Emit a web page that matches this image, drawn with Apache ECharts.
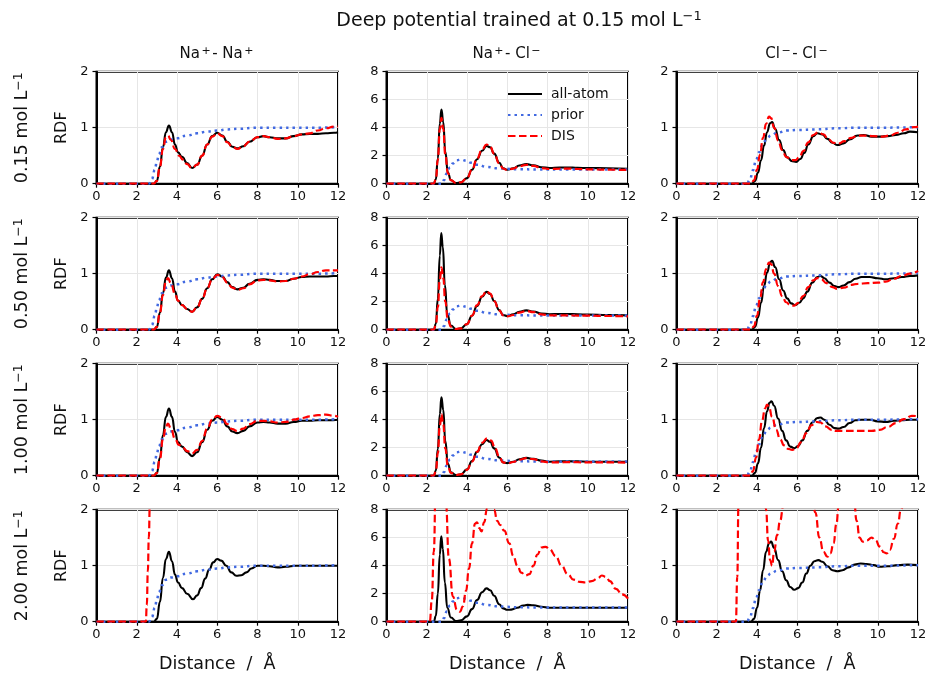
<!DOCTYPE html>
<html>
<head>
<meta charset="utf-8">
<title>RDF comparison</title>
<script src="https://cdn.jsdelivr.net/npm/echarts@6/dist/echarts.min.js"></script>
<style>
  html, body { margin: 0; padding: 0; background: #fff; }
  #chart { width: 930px; height: 677px; }
</style>
</head>
<body>
<div id="chart"></div>
<script>
// ---- labels (rich-text markup: {sup|...} is a superscript) ----
const figTitle = 'Deep potential trained at 0.15 mol L{sup|\u22121}';
const pairTitles = ['Na{sup|+}- Na{sup|+}', 'Na{sup|+}- Cl{sup|\u2212}', 'Cl{sup|\u2212}- Cl{sup|\u2212}'];
const concLabels = ['0.15 mol L{sup|\u22121}', '0.50 mol L{sup|\u22121}', '1.00 mol L{sup|\u22121}', '2.00 mol L{sup|\u22121}'];
const seriesNames = ['all-atom', 'prior', 'DIS'];
const xMax = 12, xStep = 2;
const yMaxByPair = [2, 8, 2];
const yStepByPair = [1, 2, 1];

// ---- prior RDFs (one per ion pair) ----
const priorNaNa = [[0,0],[2.6,0],[2.75,0.08],[2.9,0.25],[3.0,0.4],[3.1,0.52],[3.25,0.65],[3.45,0.75],[3.7,0.79],[4.0,0.81],[4.5,0.86],[5.0,0.9],[5.5,0.93],[6.0,0.95],[6.5,0.97],[7.0,0.98],[8.0,1.0],[9.0,1.0],[10,1.0],[11,1.0],[12,1.01]];
const priorNaCl = [[0,0],[2.75,0],[2.85,0.25],[3.0,0.75],[3.15,1.15],[3.3,1.45],[3.5,1.68],[3.7,1.72],[3.95,1.65],[4.2,1.5],[4.5,1.35],[5.0,1.2],[5.5,1.1],[6.0,1.06],[6.5,1.03],[7.5,1.02],[9,1.02],[12,1.02]];
const priorClCl = [[0,0],[3.5,0],[3.65,0.08],[3.8,0.24],[3.95,0.42],[4.1,0.56],[4.3,0.72],[4.5,0.82],[4.7,0.86],[5.0,0.91],[5.5,0.95],[6.0,0.96],[7.0,0.97],[8.0,0.99],[9.0,1.0],[10,1.0],[12,1.01]];

// ---- 0.15 mol/L ----
const aaNaNa015 = [[0,0],[2.85,0],[3.0,0.05],[3.15,0.3],[3.3,0.65],[3.45,0.92],[3.6,1.04],[3.75,0.92],[3.9,0.7],[4.05,0.56],[4.25,0.48],[4.5,0.37],[4.75,0.28],[5.0,0.34],[5.25,0.5],[5.5,0.7],[5.75,0.85],[6.0,0.91],[6.25,0.86],[6.5,0.75],[6.75,0.66],[7.0,0.63],[7.3,0.67],[7.6,0.75],[8.0,0.83],[8.3,0.85],[8.6,0.83],[9.0,0.81],[9.4,0.81],[9.8,0.85],[10.2,0.88],[10.6,0.89],[11.0,0.89],[11.4,0.9],[11.8,0.91],[12,0.92]];
const disNaNa015 = [[0,0],[2.85,0],[3.0,0.05],[3.15,0.3],[3.3,0.62],[3.45,0.83],[3.55,0.86],[3.7,0.78],[3.9,0.62],[4.1,0.5],[4.3,0.43],[4.5,0.35],[4.75,0.28],[5.0,0.34],[5.25,0.5],[5.5,0.7],[5.75,0.84],[6.0,0.9],[6.25,0.85],[6.5,0.74],[6.75,0.66],[7.0,0.62],[7.3,0.67],[7.6,0.75],[8.0,0.83],[8.3,0.85],[8.6,0.83],[9.0,0.8],[9.4,0.81],[9.8,0.85],[10.2,0.88],[10.6,0.9],[11.0,0.95],[11.4,0.99],[11.8,1.02],[12,1.02]];
const aaNaCl015 = [[0,0],[2.35,0],[2.45,0.3],[2.55,1.8],[2.65,4.3],[2.73,5.3],[2.82,4.4],[2.92,2.3],[3.05,0.8],[3.2,0.25],[3.45,0.05],[3.7,0.1],[4.0,0.4],[4.25,1.0],[4.5,1.75],[4.75,2.35],[4.97,2.7],[5.15,2.6],[5.35,2.15],[5.6,1.5],[5.8,1.1],[6.0,1.0],[6.3,1.1],[6.6,1.3],[6.95,1.4],[7.3,1.32],[7.7,1.18],[8.1,1.12],[8.6,1.15],[9.0,1.16],[9.5,1.13],[10,1.12],[11,1.1],[12,1.07]];
const disNaCl015 = [[0,0],[2.35,0],[2.45,0.3],[2.55,1.7],[2.65,3.9],[2.73,4.7],[2.82,3.9],[2.92,2.1],[3.05,0.75],[3.2,0.25],[3.45,0.05],[3.7,0.1],[4.0,0.4],[4.25,1.0],[4.5,1.8],[4.75,2.45],[4.97,2.8],[5.15,2.65],[5.35,2.15],[5.6,1.45],[5.8,1.08],[6.0,0.98],[6.3,1.08],[6.6,1.25],[6.95,1.35],[7.3,1.27],[7.7,1.12],[8.1,1.05],[8.6,1.07],[9.0,1.08],[9.5,1.05],[10,1.03],[11,1.0],[12,0.98]];
const aaClCl015 = [[0,0],[3.75,0],[3.9,0.05],[4.05,0.2],[4.2,0.42],[4.35,0.68],[4.5,0.92],[4.65,1.08],[4.75,1.1],[4.9,0.98],[5.1,0.78],[5.3,0.6],[5.5,0.47],[5.75,0.4],[5.95,0.39],[6.15,0.44],[6.35,0.55],[6.55,0.7],[6.8,0.85],[7.0,0.9],[7.25,0.88],[7.5,0.8],[7.75,0.73],[8.0,0.69],[8.3,0.72],[8.6,0.79],[9.0,0.86],[9.3,0.87],[9.7,0.84],[10.1,0.84],[10.5,0.85],[10.9,0.87],[11.3,0.9],[11.6,0.93],[12,0.92]];
const disClCl015 = [[0,0],[3.7,0],[3.85,0.06],[4.0,0.25],[4.15,0.52],[4.3,0.82],[4.45,1.07],[4.6,1.2],[4.7,1.17],[4.85,1.0],[5.05,0.77],[5.25,0.6],[5.45,0.48],[5.7,0.42],[5.9,0.42],[6.1,0.47],[6.3,0.58],[6.55,0.74],[6.8,0.87],[7.05,0.92],[7.3,0.88],[7.55,0.79],[7.8,0.73],[8.05,0.72],[8.35,0.76],[8.7,0.82],[9.0,0.86],[9.4,0.86],[9.8,0.85],[10.2,0.84],[10.6,0.86],[11.0,0.91],[11.4,0.97],[11.8,1.01],[12,1.02]];

// ---- 0.50 mol/L ----
const aaNaNa050 = [[0,0],[2.85,0],[3.0,0.05],[3.15,0.3],[3.3,0.65],[3.45,0.93],[3.6,1.06],[3.75,0.92],[3.9,0.68],[4.05,0.52],[4.25,0.44],[4.5,0.37],[4.75,0.32],[5.0,0.4],[5.25,0.55],[5.5,0.74],[5.75,0.9],[6.0,0.99],[6.25,0.95],[6.5,0.85],[6.75,0.76],[7.0,0.72],[7.3,0.75],[7.6,0.82],[8.0,0.89],[8.3,0.9],[8.6,0.89],[9.0,0.87],[9.4,0.87],[9.8,0.91],[10.2,0.94],[10.6,0.95],[11.0,0.95],[11.4,0.95],[11.8,0.96],[12,0.96]];
const disNaNa050 = [[0,0],[2.85,0],[3.0,0.05],[3.15,0.3],[3.3,0.62],[3.45,0.86],[3.55,0.92],[3.7,0.83],[3.9,0.64],[4.05,0.52],[4.25,0.44],[4.5,0.37],[4.75,0.32],[5.0,0.4],[5.25,0.55],[5.5,0.74],[5.75,0.9],[6.0,0.98],[6.25,0.94],[6.5,0.84],[6.75,0.75],[7.0,0.71],[7.3,0.74],[7.6,0.81],[8.0,0.88],[8.3,0.89],[8.6,0.88],[9.0,0.86],[9.4,0.87],[9.8,0.91],[10.2,0.95],[10.6,0.99],[11.0,1.03],[11.4,1.06],[11.8,1.06],[12,1.06]];
const aaNaCl050 = [[0,0],[2.35,0],[2.45,0.4],[2.55,2.2],[2.65,5.3],[2.72,6.9],[2.8,5.9],[2.9,3.2],[3.02,1.1],[3.2,0.3],[3.45,0.05],[3.7,0.1],[4.0,0.4],[4.25,1.0],[4.5,1.7],[4.75,2.35],[4.97,2.7],[5.15,2.55],[5.35,2.05],[5.6,1.4],[5.8,1.05],[6.0,0.98],[6.3,1.1],[6.6,1.28],[6.95,1.38],[7.3,1.3],[7.7,1.16],[8.1,1.1],[8.6,1.12],[9.0,1.12],[9.5,1.1],[10,1.08],[11,1.05],[12,1.02]];
const disNaCl050 = [[0,0],[2.35,0],[2.45,0.3],[2.55,1.6],[2.65,3.6],[2.73,4.45],[2.82,3.7],[2.92,2.0],[3.05,0.7],[3.2,0.22],[3.45,0.05],[3.7,0.1],[4.0,0.4],[4.25,1.0],[4.5,1.75],[4.75,2.4],[4.97,2.75],[5.15,2.58],[5.35,2.05],[5.6,1.38],[5.8,1.02],[6.0,0.95],[6.3,1.05],[6.6,1.22],[6.95,1.33],[7.3,1.26],[7.7,1.1],[8.1,1.02],[8.6,1.02],[9.0,1.02],[9.5,1.01],[10,1.0],[11,0.98],[12,0.95]];
const aaClCl050 = [[0,0],[3.75,0],[3.9,0.05],[4.05,0.22],[4.2,0.48],[4.35,0.78],[4.5,1.02],[4.65,1.2],[4.75,1.23],[4.9,1.12],[5.1,0.9],[5.3,0.7],[5.5,0.56],[5.7,0.47],[5.9,0.44],[6.1,0.48],[6.3,0.56],[6.5,0.68],[6.75,0.84],[7.0,0.94],[7.15,0.96],[7.35,0.92],[7.6,0.84],[7.85,0.78],[8.05,0.76],[8.3,0.79],[8.6,0.85],[8.9,0.91],[9.2,0.94],[9.6,0.94],[10.0,0.92],[10.4,0.9],[10.8,0.92],[11.2,0.94],[11.6,0.96],[12,0.97]];
const disClCl050 = [[0,0],[3.7,0],[3.85,0.06],[4.0,0.25],[4.15,0.55],[4.3,0.85],[4.45,1.08],[4.6,1.2],[4.7,1.17],[4.85,1.0],[5.05,0.78],[5.25,0.6],[5.45,0.49],[5.65,0.44],[5.85,0.43],[6.05,0.48],[6.3,0.6],[6.55,0.76],[6.8,0.88],[7.0,0.92],[7.2,0.9],[7.45,0.83],[7.75,0.76],[8.0,0.73],[8.3,0.75],[8.7,0.8],[9.0,0.82],[9.5,0.83],[10.0,0.84],[10.4,0.86],[10.8,0.91],[11.2,0.96],[11.6,1.0],[12,1.05]];

// ---- 1.00 mol/L ----
const aaNaNa100 = [[0,0],[2.85,0],[3.0,0.05],[3.15,0.32],[3.3,0.72],[3.45,1.05],[3.6,1.2],[3.75,1.05],[3.9,0.78],[4.05,0.6],[4.25,0.52],[4.5,0.42],[4.75,0.35],[5.0,0.42],[5.25,0.6],[5.5,0.82],[5.75,0.98],[6.0,1.05],[6.25,1.0],[6.5,0.88],[6.75,0.79],[7.0,0.76],[7.3,0.8],[7.6,0.88],[8.0,0.95],[8.3,0.96],[8.6,0.95],[9.0,0.93],[9.4,0.93],[9.8,0.96],[10.2,0.98],[10.6,0.98],[11.0,0.99],[11.5,0.99],[12,1.0]];
const disNaNa100 = [[0,0],[2.85,0],[3.0,0.05],[3.15,0.3],[3.3,0.65],[3.45,0.88],[3.55,0.93],[3.7,0.84],[3.9,0.66],[4.1,0.55],[4.3,0.5],[4.5,0.44],[4.75,0.4],[5.0,0.46],[5.25,0.62],[5.5,0.84],[5.75,1.0],[6.0,1.07],[6.25,1.03],[6.5,0.92],[6.75,0.83],[7.0,0.8],[7.3,0.84],[7.6,0.92],[8.0,0.98],[8.3,0.98],[8.6,0.97],[9.0,0.95],[9.4,0.96],[9.8,1.0],[10.2,1.03],[10.6,1.06],[11.0,1.08],[11.4,1.09],[11.8,1.07],[12,1.05]];
const aaNaCl100 = [[0,0],[2.35,0],[2.45,0.35],[2.55,1.9],[2.65,4.4],[2.73,5.6],[2.82,4.7],[2.92,2.5],[3.05,0.85],[3.2,0.25],[3.45,0.05],[3.7,0.1],[4.0,0.45],[4.25,1.05],[4.5,1.7],[4.75,2.25],[4.97,2.55],[5.15,2.42],[5.35,1.95],[5.6,1.3],[5.8,0.95],[6.0,0.9],[6.3,1.0],[6.6,1.18],[6.95,1.27],[7.3,1.2],[7.7,1.08],[8.1,1.0],[8.6,1.02],[9.0,1.03],[9.5,1.02],[10,1.0],[11,1.0],[12,1.0]];
const disNaCl100 = [[0,0],[2.35,0],[2.45,0.3],[2.55,1.6],[2.65,3.6],[2.73,4.4],[2.82,3.65],[2.92,1.95],[3.05,0.7],[3.2,0.2],[3.45,0.05],[3.7,0.1],[4.0,0.42],[4.25,1.0],[4.5,1.7],[4.75,2.35],[5.0,2.67],[5.2,2.5],[5.4,1.95],[5.6,1.35],[5.8,0.95],[6.0,0.88],[6.3,0.98],[6.6,1.15],[6.95,1.25],[7.3,1.18],[7.7,1.02],[8.1,0.95],[8.6,0.95],[9.0,0.97],[9.5,0.96],[10,0.95],[11,0.95],[12,0.93]];
const aaClCl100 = [[0,0],[3.75,0],[3.9,0.05],[4.05,0.22],[4.2,0.5],[4.35,0.85],[4.5,1.15],[4.62,1.3],[4.72,1.33],[4.85,1.25],[5.05,1.02],[5.25,0.8],[5.45,0.63],[5.65,0.52],[5.85,0.49],[6.05,0.53],[6.25,0.63],[6.5,0.8],[6.75,0.95],[7.0,1.03],[7.15,1.04],[7.35,1.0],[7.6,0.91],[7.85,0.85],[8.05,0.84],[8.3,0.87],[8.6,0.94],[8.9,0.99],[9.2,1.0],[9.6,1.0],[10.0,0.97],[10.4,0.96],[10.8,0.98],[11.2,0.99],[11.6,1.0],[12,1.0]];
const disClCl100 = [[0,0],[3.65,0],[3.8,0.08],[3.95,0.32],[4.1,0.65],[4.25,0.98],[4.4,1.2],[4.5,1.27],[4.6,1.22],[4.75,1.05],[4.95,0.82],[5.15,0.65],[5.35,0.54],[5.55,0.48],[5.75,0.46],[5.95,0.49],[6.2,0.6],[6.45,0.76],[6.7,0.9],[6.95,0.96],[7.15,0.95],[7.4,0.88],[7.7,0.82],[7.95,0.8],[8.3,0.8],[8.7,0.8],[9.2,0.8],[9.7,0.8],[10.1,0.82],[10.5,0.87],[10.9,0.94],[11.3,1.01],[11.7,1.07],[12,1.06]];

// ---- 2.00 mol/L ----
const aaNaNa200 = [[0,0],[2.85,0],[3.0,0.05],[3.15,0.35],[3.3,0.78],[3.45,1.12],[3.6,1.25],[3.75,1.08],[3.9,0.84],[4.05,0.7],[4.25,0.6],[4.5,0.5],[4.8,0.4],[5.0,0.47],[5.2,0.6],[5.4,0.77],[5.6,0.93],[5.8,1.06],[6.0,1.12],[6.2,1.09],[6.45,1.0],[6.7,0.88],[6.95,0.82],[7.2,0.83],[7.45,0.88],[7.7,0.95],[8.0,1.0],[8.3,1.0],[8.6,0.99],[9.0,0.97],[9.4,0.98],[9.9,1.0],[10.5,1.0],[11,1.0],[12,1.0]];
const disNaNa200 = [[0,0],[2.45,0],[2.5,0.3],[2.55,0.9],[2.6,1.5],[2.65,2.1],[2.75,3.2],[3.0,5.5],[3.5,7.0],[4.5,5.0],[6.0,4.0],[8.0,3.5],[10,3.0],[12,3.0]];
const aaNaCl200 = [[0,0],[2.35,0],[2.45,0.4],[2.55,2.0],[2.65,4.8],[2.72,6.1],[2.8,5.2],[2.9,2.8],[3.02,1.0],[3.2,0.3],[3.45,0.05],[3.7,0.1],[4.0,0.38],[4.25,0.9],[4.5,1.55],[4.75,2.1],[4.97,2.38],[5.15,2.25],[5.35,1.85],[5.6,1.25],[5.8,0.95],[6.0,0.85],[6.2,0.86],[6.5,1.0],[6.8,1.15],[7.0,1.2],[7.3,1.17],[7.7,1.07],[8.1,1.0],[8.6,1.0],[9.0,1.0],[10,1.0],[11,1.0],[12,1.0]];
const disNaCl200 = [[0,0],[2.15,0],[2.25,1.5],[2.35,5],[2.45,10],[2.65,14],[2.85,11],[2.95,8.5],[3.1,4.5],[3.3,1.8],[3.5,0.85],[3.65,0.72],[3.8,1.1],[3.95,2.2],[4.1,3.8],[4.25,5.6],[4.4,7.0],[4.5,7.1],[4.6,6.7],[4.72,6.45],[4.85,7.1],[5.0,8.1],[5.2,8.5],[5.35,8.0],[5.5,7.2],[5.65,6.9],[5.85,6.5],[6.1,5.6],[6.3,4.7],[6.5,4.0],[6.7,3.5],[6.9,3.3],[7.1,3.4],[7.3,4.0],[7.5,4.8],[7.7,5.3],[7.9,5.35],[8.1,5.2],[8.4,4.7],[8.7,4.0],[9.0,3.4],[9.3,3.0],[9.6,2.85],[9.9,2.8],[10.2,2.9],[10.5,3.1],[10.7,3.3],[10.9,3.2],[11.1,2.9],[11.4,2.35],[11.7,1.95],[12,1.65]];
const aaClCl200 = [[0,0],[3.7,0],[3.85,0.05],[4.0,0.25],[4.15,0.55],[4.3,0.92],[4.45,1.25],[4.6,1.4],[4.7,1.43],[4.85,1.32],[5.05,1.1],[5.25,0.9],[5.45,0.74],[5.65,0.62],[5.85,0.57],[6.05,0.6],[6.25,0.7],[6.45,0.86],[6.65,1.0],[6.85,1.08],[7.05,1.1],[7.25,1.07],[7.5,0.99],[7.75,0.92],[8.0,0.9],[8.25,0.92],[8.55,0.97],[8.85,1.02],[9.15,1.04],[9.45,1.03],[9.8,1.01],[10.1,0.98],[10.5,0.99],[11.0,1.01],[11.5,1.02],[12,1.01]];
const disClCl200 = [[0,0],[2.95,0],[3.02,0.8],[3.08,2.1],[3.2,4],[3.6,6],[4.0,5],[4.3,2.8],[4.45,2.0],[4.55,1.45],[4.65,1.1],[4.75,1.0],[4.85,1.25],[5.0,1.55],[5.15,1.8],[5.3,2.05],[5.6,3],[6.2,3.2],[6.7,2.4],[6.9,1.95],[7.1,1.5],[7.3,1.25],[7.5,1.16],[7.65,1.22],[7.8,1.4],[7.95,1.75],[8.05,2.05],[8.4,3],[8.8,2.3],[8.95,1.8],[9.1,1.5],[9.25,1.43],[9.45,1.45],[9.7,1.5],[9.9,1.45],[10.1,1.34],[10.3,1.24],[10.45,1.22],[10.6,1.28],[10.8,1.48],[11.0,1.75],[11.15,2.0],[11.5,2.8],[12,3.2]];

// rows = concentrations, columns = ion pairs
const allAtom = [
  [aaNaNa015, aaNaCl015, aaClCl015],
  [aaNaNa050, aaNaCl050, aaClCl050],
  [aaNaNa100, aaNaCl100, aaClCl100],
  [aaNaNa200, aaNaCl200, aaClCl200]
];
const priors = [priorNaNa, priorNaCl, priorClCl];
const dis = [
  [disNaNa015, disNaCl015, disClCl015],
  [disNaNa050, disNaCl050, disClCl050],
  [disNaNa100, disNaCl100, disClCl100],
  [disNaNa200, disNaCl200, disClCl200]
];

// ---- layout ----
const FONT = 'DejaVu Sans';
const colLeft = [96.5, 386.5, 676.5];
const panelW = 241.5;
const rowTop = [71.7, 217.7, 363.7, 509.7];
const panelH = 112;

const styles = {
  'all-atom': { color: '#000000', width: 2.1, type: 'solid', z: 2 },
  'prior':    { color: '#4169E1', width: 2.5, type: [2.5, 4], z: 3 },
  'DIS':      { color: '#FF0000', width: 2.2, type: [7.5, 3.5], z: 4 }
};

const grid = [], xAxis = [], yAxis = [], series = [];
for (let r = 0; r < 4; r++) {
  for (let c = 0; c < 3; c++) {
    const idx = r * 3 + c;
    grid.push({
      left: colLeft[c], top: rowTop[r], width: panelW, height: panelH,
      show: true, borderColor: '#000', borderWidth: 2, backgroundColor: 'transparent'
    });
    xAxis.push({
      type: 'value', gridIndex: idx, min: 0, max: xMax, interval: xStep,
      axisLine: { show: true, onZero: false, lineStyle: { color: '#000', width: 2 } },
      axisTick: { show: true, inside: false, length: 4, lineStyle: { color: '#000', width: 1.2 } },
      axisLabel: { color: '#111', fontSize: 13, fontFamily: FONT, margin: 6 },
      splitLine: { show: true, lineStyle: { color: '#e6e6e6', width: 1 } },
      name: r === 3 ? 'Distance  /  \u00C5' : '',
      nameLocation: 'middle', nameGap: 34,
      nameTextStyle: { color: '#111', fontSize: 17.5, fontFamily: FONT }
    });
    yAxis.push({
      type: 'value', gridIndex: idx, min: 0, max: yMaxByPair[c], interval: yStepByPair[c],
      axisLine: { show: true, onZero: false, lineStyle: { color: '#000', width: 2 } },
      axisTick: { show: true, inside: false, length: 4, lineStyle: { color: '#000', width: 1.2 } },
      axisLabel: { color: '#111', fontSize: 13, fontFamily: FONT, margin: 8 },
      splitLine: { show: true, lineStyle: { color: '#e6e6e6', width: 1 } },
      name: c === 0 ? 'RDF' : '',
      nameLocation: 'middle', nameGap: 27, nameRotate: 90,
      nameTextStyle: { color: '#111', fontSize: 16, fontFamily: FONT }
    });
    const curves = { 'all-atom': allAtom[r][c], 'prior': priors[c], 'DIS': dis[r][c] };
    seriesNames.forEach(name => {
      const s = styles[name];
      series.push({
        name: name, type: 'line', xAxisIndex: idx, yAxisIndex: idx,
        data: curves[name], symbol: 'none', showSymbol: false,
        smooth: 0.5, smoothMonotone: 'x', clip: true, z: s.z,
        lineStyle: { color: s.color, width: s.width, type: s.type },
        itemStyle: { color: s.color },
        emphasis: { disabled: true }, animation: false
      });
    });
  }
}

// text with a raised, smaller superscript token
function richStyle(text, size, supSize, raise, sidePad) {
  return {
    text: text, fill: '#111', fontFamily: FONT, fontSize: size,
    textAlign: 'center', textVerticalAlign: 'middle',
    rich: {
      sup: { fontFamily: FONT, fontSize: supSize, fill: '#111', verticalAlign: 'bottom', padding: [0, sidePad, raise, sidePad] }
    }
  };
}

const graphic = [];
graphic.push({ type: 'text', x: 519, y: 21, style: richStyle(figTitle, 19, 13, 8, 0) });
pairTitles.forEach((t, c) => {
  graphic.push({ type: 'text', x: colLeft[c] + panelW / 2, y: 54, style: richStyle(t, 15, 11, 6, 1.5) });
});
concLabels.forEach((t, r) => {
  graphic.push({
    type: 'text', x: 22, y: rowTop[r] + panelH / 2, rotation: Math.PI / 2,
    style: richStyle(t, 17.5, 12.5, 7.5, 0)
  });
});

const chart = echarts.init(document.getElementById('chart'), null, { renderer: 'canvas' });
chart.setOption({
  backgroundColor: '#ffffff',
  animation: false,
  textStyle: { fontFamily: FONT },
  grid, xAxis, yAxis, series, graphic,
  legend: {
    data: seriesNames,
    orient: 'vertical',
    left: 502, top: 82,
    itemWidth: 34, itemHeight: 12, itemGap: 7,
    itemStyle: { opacity: 0, borderWidth: 0 },
    textStyle: { color: '#111', fontSize: 14, fontFamily: FONT, padding: [0, 0, 0, 4] }
  }
});
</script>
</body>
</html>
